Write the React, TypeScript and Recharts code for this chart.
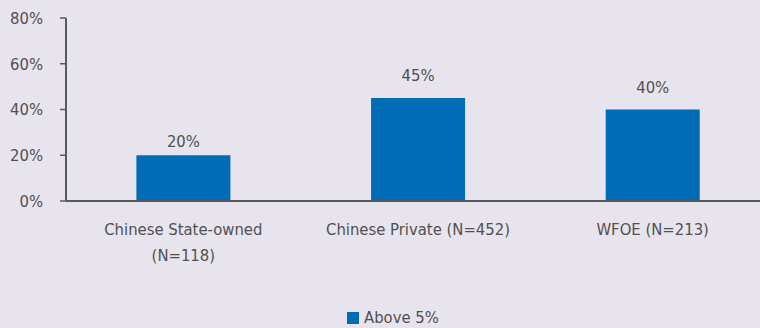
import React from "react";
import { BarChart, Bar, XAxis, YAxis, LabelList, Legend } from "recharts";

const categories = ["Chinese State-owned|(N=118)", "Chinese Private (N=452)", "WFOE (N=213)"];
const above5 = [20, 45, 40];
const yTicks = [0, 20, 40, 60, 80];
const seriesName = "Above 5%";
const boundaryTicks = [0, 1, 2, 3];

const data = categories.map((c, i) => ({ name: c, value: above5[i] }));

// style: gap between each bar top and its value label baseline
const labelGaps = [8, 17, 17];

const FONT = "'DejaVu Sans Condensed', 'DejaVu Sans', sans-serif";
const FS = 16.5;
const TEXT = "#505050";
const AXIS = "#5a5a5a";
const BAR = "#006cb7";
const BG = "#e8e4ee";

const CatTick = (props: any) => {
  const { x, y, payload } = props;
  const lines = String(payload.value).split("|");
  return (
    <text x={x} y={y} textAnchor="middle" fill={TEXT} fontSize={FS} fontFamily={FONT}>
      {lines.map((l, i) => (
        <tspan key={i} x={x} dy={i === 0 ? 26 : 25.5}>
          {l}
        </tspan>
      ))}
    </text>
  );
};

const ValueLabel = (props: any) => {
  const { x, y, width, value, index } = props;
  const gap = labelGaps[index] ?? 10;
  return (
    <text x={x + width / 2} y={y - gap} textAnchor="middle" fill={TEXT} fontSize={FS} fontFamily={FONT}>
      {`${value}%`}
    </text>
  );
};

const LegendContent = (props: any) => {
  const { payload } = props;
  return (
    <div style={{ display: "flex", alignItems: "center", fontFamily: FONT, fontSize: FS, color: TEXT }}>
      {(payload || []).map((p: any, i: number) => (
        <div key={i} style={{ display: "flex", alignItems: "center" }}>
          <div style={{ width: 12, height: 12, background: BAR, marginRight: 5 }} />
          <span style={{ lineHeight: "20px" }}>{p.value}</span>
        </div>
      ))}
    </div>
  );
};

export default function App() {
  return (
    <div
      style={{
        position: "absolute",
        left: 0,
        top: 0,
        width: 760,
        height: 328,
        overflow: "hidden",
        background: BG,
      }}
    >
      <BarChart
        width={770}
        height={328}
        data={data}
        margin={{ top: 18, right: 0, bottom: 87, left: 0 }}
        barCategoryGap="30%"
      >
        <XAxis
          xAxisId="marks"
          type="number"
          domain={[0, 3]}
          ticks={boundaryTicks}
          tick={false}
          axisLine={false}
          tickLine={{ stroke: AXIS, strokeWidth: 1.5 }}
          tickSize={6}
          height={0}
          allowDataOverflow
        />
        <XAxis
          dataKey="name"
          tickLine={false}
          axisLine={{ stroke: AXIS, strokeWidth: 2 }}
          tick={<CatTick />}
          interval={0}
          height={40}
        />
        <YAxis
          domain={[0, 80]}
          ticks={yTicks}
          tickFormatter={(v: number) => `${v}%`}
          width={66}
          tickSize={6}
          tickMargin={17}
          axisLine={{ stroke: AXIS, strokeWidth: 2 }}
          tickLine={{ stroke: AXIS, strokeWidth: 1.5 }}
          tick={{ fill: TEXT, fontSize: FS, fontFamily: FONT }}
        />
        <Legend
          layout="horizontal"
          verticalAlign="middle"
          align="center"
          content={<LegendContent />}
          wrapperStyle={{ position: "absolute", left: 347, top: 308, width: 200 }}
        />
        <Bar dataKey="value" name={seriesName} fill={BAR} isAnimationActive={false}>
          <LabelList dataKey="value" content={<ValueLabel />} />
        </Bar>
      </BarChart>
    </div>
  );
}
